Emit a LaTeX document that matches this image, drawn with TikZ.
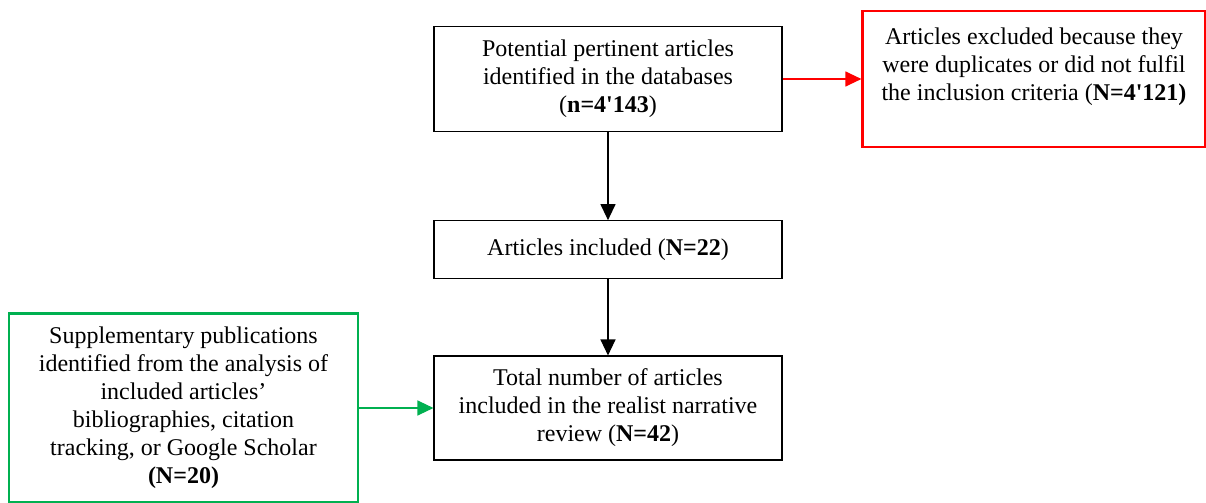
\documentclass[tikz,border=0pt]{standalone}
\usepackage{fontspec}
\setmainfont{Liberation Serif}
\usetikzlibrary{arrows.meta}
\definecolor{excred}{HTML}{FF0000}
\definecolor{supgreen}{HTML}{00B050}
\newcommand{\apos}{\textquotesingle}

\begin{document}
\begin{tikzpicture}[x=0.5pt,y=-0.5pt,
  box/.style={rectangle,draw=black,line width=0.55pt,align=center,inner sep=0pt,
    minimum width=174pt,font=\fontsize{12}{14}\selectfont},
  redbox/.style={box,draw=excred,line width=1.1pt,minimum width=171.5pt,minimum height=68pt},
  greenbox/.style={box,draw=supgreen,line width=1.1pt,minimum width=174.3pt,minimum height=94.5pt},
  arr/.style={-{Triangle[length=8pt,width=7.5pt]},line width=0.6pt,draw=black},
  redarr/.style={arr,draw=excred},
  greenarr/.style={arr,draw=supgreen}]
\useasboundingbox (0,0) rectangle (1206,503);
%Main column
\node at (608,79) [box,minimum height=52.5pt] (found)
  {Potential pertinent articles\\identified in the databases\\(\textbf{n=4\apos143})};
\node at (608,249.5) [box,minimum height=28.8pt] (included)
  {Articles included (\textbf{N=22})};
\node at (608,408) [box,minimum height=52pt] (total)
  {Total number of articles\\included in the realist narrative\\review (\textbf{N=42})};
%Side boxes
\node at (1034,79) [redbox] (excluded)
  {Articles excluded because they\\were duplicates or did not fulfil\\the inclusion criteria (\textbf{N=4\apos121)}\\[-3pt]\strut};
\node at (183.5,408) [greenbox] (suppl)
  {Supplementary publications\\identified from the analysis of\\included articles'\\bibliographies, citation\\tracking, or Google Scholar\\\textbf{(N=20)}};
%Arrows
\draw [arr] (found.south) -- (included.north);
\draw [arr] (included.south) -- (total.north);
\draw [redarr] (found.east) -- (excluded.west);
\draw [greenarr] (suppl.east) -- (total.west);
\end{tikzpicture}
\end{document}
